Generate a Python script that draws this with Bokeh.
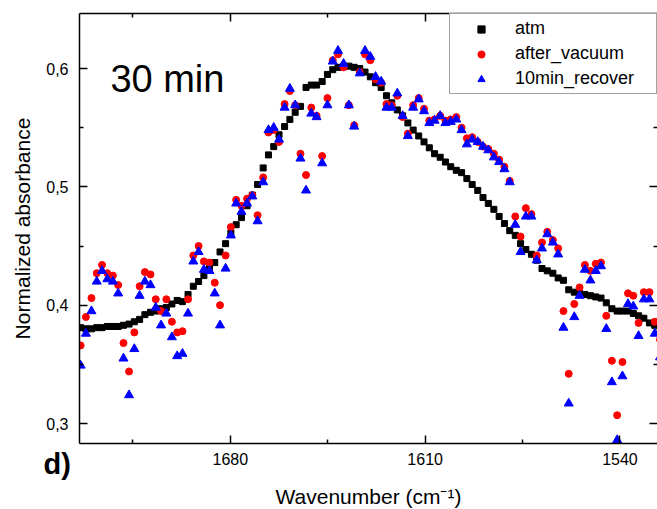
from bokeh.plotting import figure
from bokeh.models import Range1d, FixedTicker, LinearAxis, CustomJSTickFormatter, Label, Title
from bokeh.embed import file_html
from bokeh.resources import INLINE

# ---------------- data ----------------
wavenumber = [1733.8, 1731.9, 1729.9, 1728.0, 1726.1, 1724.2, 1722.2, 1720.3, 1718.4, 1716.4,
              1714.5, 1712.6, 1710.7, 1708.7, 1706.8, 1704.9, 1703.0, 1701.0, 1699.1, 1697.2,
              1695.2, 1693.3, 1691.4, 1689.5, 1687.5, 1685.6, 1683.7, 1681.7, 1679.8, 1677.9,
              1676.0, 1674.0, 1672.1, 1670.2, 1668.2, 1666.3, 1664.4, 1662.5, 1660.5, 1658.6,
              1656.7, 1654.8, 1652.8, 1650.9, 1649.0, 1647.0, 1645.1, 1643.2, 1641.3, 1639.3,
              1637.4, 1635.5, 1633.5, 1631.6, 1629.7, 1627.8, 1625.8, 1623.9, 1622.0, 1620.0,
              1618.1, 1616.2, 1614.3, 1612.3, 1610.4, 1608.5, 1606.6, 1604.6, 1602.7, 1600.8,
              1598.8, 1596.9, 1595.0, 1593.1, 1591.1, 1589.2, 1587.3, 1585.3, 1583.4, 1581.5,
              1579.6, 1577.6, 1575.7, 1573.8, 1571.8, 1569.9, 1568.0, 1566.1, 1564.1, 1562.2,
              1560.3, 1558.4, 1556.4, 1554.5, 1552.6, 1550.6, 1548.7, 1546.8, 1544.9, 1542.9,
              1541.0, 1539.1, 1537.1, 1535.2, 1533.3, 1531.4, 1529.4, 1527.5, 1525.6]

atm = [0.381, 0.380, 0.380, 0.381, 0.381, 0.382, 0.382, 0.382, 0.383, 0.384,
       0.386, 0.388, 0.392, 0.394, 0.395, 0.397, 0.398, 0.401, 0.404, 0.403,
       0.409, 0.416, 0.420, 0.425, 0.431, 0.436, 0.445, 0.452, 0.461, 0.468,
       0.474, 0.484, 0.493, 0.502, 0.516, 0.527, 0.534, 0.544, 0.551, 0.557,
       0.563, 0.568, 0.584, 0.586, 0.586, 0.589, 0.595, 0.599, 0.601, 0.602,
       0.602, 0.601, 0.600, 0.597, 0.593, 0.588, 0.584, 0.577, 0.571, 0.565,
       0.560, 0.554, 0.548, 0.543, 0.538, 0.533, 0.528, 0.525, 0.521, 0.517,
       0.514, 0.512, 0.507, 0.502, 0.497, 0.491, 0.486, 0.481, 0.475, 0.469,
       0.463, 0.459, 0.452, 0.447, 0.443, 0.438, 0.431, 0.429, 0.427, 0.423,
       0.421, 0.413, 0.411, 0.410, 0.409, 0.408, 0.407, 0.406, 0.402, 0.397,
       0.395, 0.395, 0.395, 0.393, 0.391, 0.389, 0.385, 0.383, 0.381]

after_vacuum = [0.366, 0.390, 0.406, 0.427, 0.434, 0.427, 0.425, 0.417, 0.368, 0.344,
                0.377, 0.416, 0.428, 0.426, 0.405, 0.395, 0.405, 0.386, 0.377, 0.378,
                0.405, 0.442, 0.450, 0.437, 0.436, 0.419, 0.400, 0.442, 0.466, 0.489,
                0.484, 0.490, 0.493, 0.476, 0.508, 0.546, 0.548, 0.538, 0.570, 0.581,
                0.569, 0.528, 0.510, 0.567, 0.560, 0.526, 0.575, 0.607, 0.612, 0.601,
                0.569, 0.552, 0.597, 0.612, 0.607, 0.591, 0.588, 0.570, 0.569, 0.577,
                0.559, 0.545, 0.569, 0.575, 0.566, 0.556, 0.557, 0.560, 0.556, 0.557,
                0.559, 0.550, 0.541, 0.542, 0.538, 0.534, 0.532, 0.528, 0.523, 0.517,
                0.505, 0.475, 0.458, 0.482, 0.477, 0.442, 0.453, 0.462, 0.455, 0.448,
                0.395, 0.342, 0.401, 0.415, 0.434, 0.429, 0.435, 0.436, 0.391, 0.353,
                0.307, 0.352, 0.410, 0.408, 0.385, 0.411, 0.411, 0.386, 0.371]

recover_10min = [0.349, 0.376, 0.395, 0.420, 0.429, 0.422, 0.420, 0.410, 0.355, 0.324,
                 0.363, 0.408, 0.420, 0.417, 0.398, 0.383, 0.393, 0.373, 0.357, 0.359,
                 0.393, 0.437, 0.445, 0.430, 0.429, 0.410, 0.383, 0.431, 0.459, 0.486,
                 0.479, 0.486, 0.492, 0.471, 0.504, 0.548, 0.550, 0.540, 0.567, 0.583,
                 0.569, 0.524, 0.497, 0.562, 0.559, 0.520, 0.569, 0.606, 0.615, 0.604,
                 0.569, 0.551, 0.596, 0.615, 0.610, 0.593, 0.589, 0.567, 0.567, 0.579,
                 0.560, 0.543, 0.567, 0.574, 0.564, 0.554, 0.556, 0.560, 0.554, 0.555,
                 0.557, 0.548, 0.536, 0.540, 0.538, 0.534, 0.531, 0.525, 0.521, 0.515,
                 0.504, 0.468, 0.445, 0.475, 0.475, 0.438, 0.448, 0.460, 0.453, 0.443,
                 0.381, 0.317, 0.390, 0.408, 0.430, 0.421, 0.429, 0.433, 0.380, 0.335,
                 0.286, 0.340, 0.401, 0.399, 0.374, 0.405, 0.405, 0.376, 0.356]

series_names = ["atm", "after_vacuum", "10min_recover"]
x_ticks = [1540, 1610, 1680]
x_minor_ticks = [1575, 1645, 1715]
y_ticks = [0.3, 0.4, 0.5, 0.6]
y_minor_ticks = [0.35, 0.45, 0.55]
x_label = "Wavenumber (cm\u207b\u00b9)"
y_label = "Normalized absorbance"
panel_text = "30 min"
panel_letter = "d)"

FONT = "Liberation Sans"

# ---------------- figure ----------------
p = figure(width=657, height=509, output_backend="svg", toolbar_location=None,
           x_range=Range1d(1734.2, 1526.5), y_range=Range1d(0.2831, 0.6465),
           min_border_left=79, min_border_right=0, min_border_top=13, min_border_bottom=66,
           background_fill_color="white", border_fill_color="white")
p.grid.visible = False
p.outline_line_color = None

xt = FixedTicker(ticks=x_ticks, minor_ticks=x_minor_ticks)
yt = FixedTicker(ticks=y_ticks, minor_ticks=y_minor_ticks)


def style_axis(ax, show_labels=True, show_line=True):
    ax.axis_line_color = "black" if show_line else None
    ax.axis_line_width = 1.5
    ax.major_tick_in = 8
    ax.major_tick_out = 0
    ax.minor_tick_in = 4
    ax.minor_tick_out = 0
    ax.major_tick_line_color = "black"
    ax.minor_tick_line_color = "black"
    ax.major_tick_line_width = 1.5
    ax.minor_tick_line_width = 1.5
    if not show_labels:
        ax.major_label_text_font_size = "0px"
        ax.major_label_standoff = 0
        ax.formatter = CustomJSTickFormatter(code="return ''")


bottom = p.below[0]
left = p.left[0]
bottom.ticker = xt
left.ticker = yt
style_axis(bottom)
style_axis(left)

bottom.major_label_text_font = FONT
bottom.major_label_text_font_size = "16px"
bottom.major_label_text_color = "black"
bottom.major_label_standoff = 9

left.formatter = CustomJSTickFormatter(code="return tick.toFixed(1).replace('.', ',');")
left.major_label_text_font = FONT
left.major_label_text_font_size = "16px"
left.major_label_text_color = "black"
left.major_label_standoff = 11
left.axis_label = y_label
left.axis_label_text_font = FONT
left.axis_label_text_font_size = "21px"
left.axis_label_text_font_style = "normal"
left.axis_label_text_color = "black"
left.axis_label_standoff = 9

top_ax = LinearAxis(ticker=xt)
style_axis(top_ax, show_labels=False)
p.add_layout(top_ax, "above")

right_ax = LinearAxis(ticker=yt)
style_axis(right_ax, show_labels=False, show_line=False)
p.add_layout(right_ax, "right")

# panel letter (left of the tick labels, below the frame) and x-axis title,
# both stacked in the bottom side panel under the tick labels
title_letter = Title(text=panel_letter + "\n ", align="left", vertical_align="top", offset=-36,
                     standoff=-38.4, text_font=FONT, text_font_size="29px", text_font_style="bold",
                     text_color="black", text_line_height=1.0)
p.add_layout(title_letter, "below")
title_x = Title(text=x_label, align="center", vertical_align="top", standoff=-21,
                text_font=FONT, text_font_size="21px", text_font_style="normal",
                text_color="black", text_line_height=1.0)
p.add_layout(title_x, "below")

# ---------------- data marks ----------------
p.scatter(wavenumber, atm, marker="square", size=6, color="black", legend_label=series_names[0])
p.scatter(wavenumber, after_vacuum, marker="circle", size=7, color="#ff0000", legend_label=series_names[1])
p.scatter(wavenumber, recover_10min, marker="triangle", size=9, color="#0000ff", legend_label=series_names[2])

# ---------------- annotations ----------------
p.add_layout(Label(x=1723.1, y=0.5913, text=panel_text, text_font=FONT, text_font_size="38px",
                   text_baseline="alphabetic", text_align="left", text_color="black"))

lg = p.legend[0]
lg.location = "top_right"
lg.margin = 0
lg.padding = 4
lg.spacing = 4
lg.glyph_width = 54
lg.glyph_height = 18
lg.label_height = 18
lg.label_width = 137
lg.label_standoff = 7
lg.label_text_font = FONT
lg.label_text_font_size = "18px"
lg.label_text_color = "black"
lg.border_line_color = "#444444"
lg.border_line_width = 1
lg.background_fill_color = "white"
lg.background_fill_alpha = 1.0

open("out.html", "w").write(file_html(p, INLINE))
